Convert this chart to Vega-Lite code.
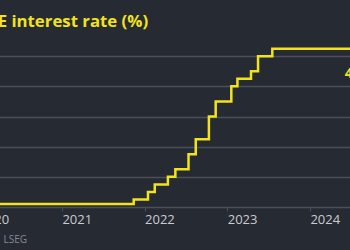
{
  "$schema": "https://vega.github.io/schema/vega-lite/v6.json",
  "width": 371,
  "height": 181,
  "autosize": {"type": "none"},
  "padding": {"left": -21, "top": 26, "right": 0, "bottom": 43},
  "background": "#262a33",
  "title": {
    "text": "BoE interest rate (%)",
    "anchor": "start",
    "frame": "group",
    "font": "Open Sans",
    "fontSize": 16.8,
    "fontWeight": "bold",
    "color": "#f2e31b",
    "baseline": "alphabetic",
    "offset": -1,
    "dy": 17,
    "dx": -3
  },
  "config": {
    "view": {"stroke": null},
    "font": "Open Sans"
  },
  "datasets": {
    "rate": [
      {"date": "2020-01-01", "rate": 0.75},
      {"date": "2020-02-11", "rate": 0.25},
      {"date": "2020-02-19", "rate": 0.1},
      {"date": "2021-11-14", "rate": 0.25},
      {"date": "2022-01-16", "rate": 0.5},
      {"date": "2022-02-15", "rate": 0.75},
      {"date": "2022-04-14", "rate": 1.0},
      {"date": "2022-05-17", "rate": 1.25},
      {"date": "2022-07-14", "rate": 1.75},
      {"date": "2022-08-15", "rate": 2.25},
      {"date": "2022-10-12", "rate": 3.0},
      {"date": "2022-11-11", "rate": 3.5},
      {"date": "2023-01-19", "rate": 4.0},
      {"date": "2023-02-15", "rate": 4.25},
      {"date": "2023-04-16", "rate": 4.5},
      {"date": "2023-05-17", "rate": 5.0},
      {"date": "2023-07-19", "rate": 5.25},
      {"date": "2024-06-26", "rate": 5.25}
    ],
    "label": [
      {"date": "2024-06-03", "rate": 4.4, "text": "4.75%"}
    ]
  },
  "encoding": {
    "x": {
      "field": "date",
      "type": "temporal",
      "scale": {"domain": ["2020-01-01", "2024-06-26"]},
      "axis": {
        "title": "LSEG",
        "titleAnchor": "start",
        "titleAlign": "left",
        "titleX": 24,
        "titleY": 32,
        "titleBaseline": "middle",
        "titleFontSize": 10,
        "titleFontWeight": "normal",
        "titleColor": "#868a92",
        "format": "%Y",
        "tickCount": {"interval": "year", "step": 1},
        "grid": false,
        "domain": true,
        "domainColor": "#4b4f58",
        "domainWidth": 1.5,
        "ticks": true,
        "tickColor": "#4b4f58",
        "tickSize": 4,
        "labelAlign": "left",
        "labelBaseline": "top",
        "labelPadding": 2,
        "labelFontSize": 13,
        "labelColor": "#c9cbd0",
        "labelFlush": false,
        "labelOverlap": false
      }
    },
    "y": {
      "field": "rate",
      "type": "quantitative",
      "scale": {"domain": [0, 6], "nice": false},
      "axis": {
        "title": null,
        "orient": "right",
        "values": [1, 2, 3, 4, 5],
        "labels": false,
        "ticks": false,
        "domain": false,
        "grid": true,
        "gridColor": "#4b4f58",
        "gridWidth": 1.5
      }
    }
  },
  "layer": [
    {
      "data": {"name": "rate"},
      "mark": {"type": "line", "interpolate": "step-after", "color": "#f2e31b", "strokeWidth": 2.5, "clip": true}
    },
    {
      "data": {"name": "label"},
      "mark": {"type": "text", "align": "left", "baseline": "middle", "fontSize": 14, "fontWeight": "bold", "color": "#f2e31b"},
      "encoding": {"text": {"field": "text"}}
    }
  ]
}
